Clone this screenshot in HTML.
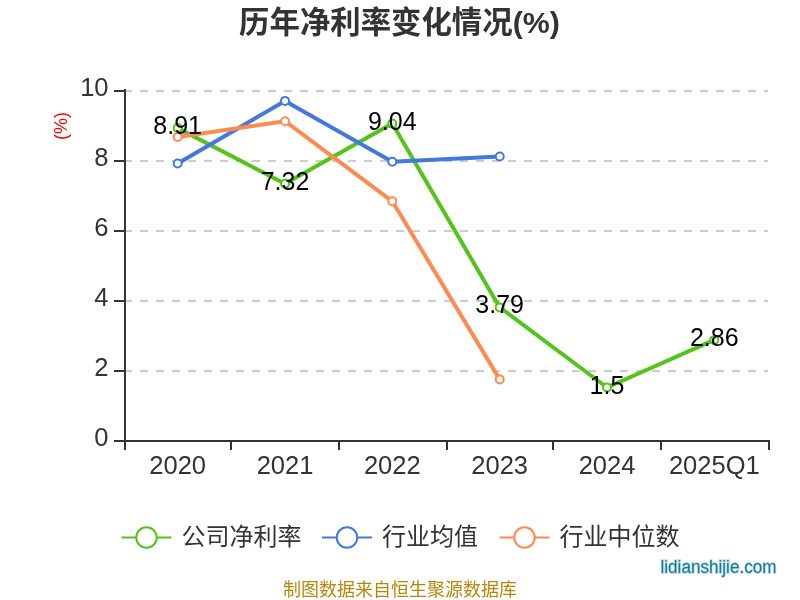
<!DOCTYPE html>
<html lang="zh-CN"><head><meta charset="utf-8"><title>历年净利率变化情况(%)</title>
<style>
html,body{margin:0;padding:0;background:#fff;}
body{width:800px;height:600px;overflow:hidden;position:relative;font-family:"Liberation Sans", "Noto Sans CJK SC", sans-serif;}
svg{position:absolute;left:0;top:0;display:block;}
svg text{font-family:"Liberation Sans", "Noto Sans CJK SC", sans-serif;}
.ax{font-size:25.5px;fill:#333;}
.dl{font-size:25px;fill:#000;text-anchor:middle;}
.lg{font-size:24px;fill:#333;}
</style></head><body>
<svg width="800" height="600" viewBox="0 0 800 600">
<rect x="0" y="0" width="800" height="600" fill="#ffffff"/>
<text x="399.5" y="33" text-anchor="middle" font-size="30.4" font-weight="bold" fill="#333">历年净利率变化情况(%)</text>
<line x1="124" y1="371.0" x2="768" y2="371.0" stroke="#ccc" stroke-width="2" stroke-dasharray="8 8"/>
<line x1="124" y1="301.0" x2="768" y2="301.0" stroke="#ccc" stroke-width="2" stroke-dasharray="8 8"/>
<line x1="124" y1="231.0" x2="768" y2="231.0" stroke="#ccc" stroke-width="2" stroke-dasharray="8 8"/>
<line x1="124" y1="161.0" x2="768" y2="161.0" stroke="#ccc" stroke-width="2" stroke-dasharray="8 8"/>
<line x1="124" y1="91.0" x2="768" y2="91.0" stroke="#ccc" stroke-width="2" stroke-dasharray="8 8"/>
<rect x="124" y="89" width="2" height="353" fill="#333"/>
<rect x="124" y="440" width="646" height="2" fill="#333"/>
<rect x="114" y="440" width="11" height="2" fill="#333"/>
<text class="ax" x="108.5" y="445.5" text-anchor="end">0</text>
<rect x="114" y="370" width="11" height="2" fill="#333"/>
<text class="ax" x="108.5" y="375.5" text-anchor="end">2</text>
<rect x="114" y="300" width="11" height="2" fill="#333"/>
<text class="ax" x="108.5" y="305.5" text-anchor="end">4</text>
<rect x="114" y="230" width="11" height="2" fill="#333"/>
<text class="ax" x="108.5" y="235.5" text-anchor="end">6</text>
<rect x="114" y="160" width="11" height="2" fill="#333"/>
<text class="ax" x="108.5" y="165.5" text-anchor="end">8</text>
<rect x="114" y="90" width="11" height="2" fill="#333"/>
<text class="ax" x="108.5" y="95.5" text-anchor="end">10</text>
<rect x="124" y="441" width="2" height="9" fill="#333"/>
<rect x="230" y="441" width="2" height="9" fill="#333"/>
<rect x="338" y="441" width="2" height="9" fill="#333"/>
<rect x="446" y="441" width="2" height="9" fill="#333"/>
<rect x="552" y="441" width="2" height="9" fill="#333"/>
<rect x="660" y="441" width="2" height="9" fill="#333"/>
<rect x="768" y="441" width="2" height="9" fill="#333"/>
<text class="ax" x="177.7" y="473.5" text-anchor="middle">2020</text>
<text class="ax" x="285.0" y="473.5" text-anchor="middle">2021</text>
<text class="ax" x="392.3" y="473.5" text-anchor="middle">2022</text>
<text class="ax" x="499.7" y="473.5" text-anchor="middle">2023</text>
<text class="ax" x="607.0" y="473.5" text-anchor="middle">2024</text>
<text class="ax" x="714.3" y="473.5" text-anchor="middle">2025Q1</text>
<text transform="translate(67 126) rotate(-90)" text-anchor="middle" font-size="18" fill="#ff0000">(%)</text>
<polyline points="177.7,128.1 285.0,183.8 392.3,123.6 499.7,307.4 607.0,387.5 714.3,339.9" fill="none" stroke="#52c41a" stroke-width="4" stroke-linejoin="bevel"/>
<circle cx="177.7" cy="128.1" r="4" fill="#fff" stroke="#52c41a" stroke-width="2"/>
<circle cx="285.0" cy="183.8" r="4" fill="#fff" stroke="#52c41a" stroke-width="2"/>
<circle cx="392.3" cy="123.6" r="4" fill="#fff" stroke="#52c41a" stroke-width="2"/>
<circle cx="499.7" cy="307.4" r="4" fill="#fff" stroke="#52c41a" stroke-width="2"/>
<circle cx="607.0" cy="387.5" r="4" fill="#fff" stroke="#52c41a" stroke-width="2"/>
<circle cx="714.3" cy="339.9" r="4" fill="#fff" stroke="#52c41a" stroke-width="2"/>
<polyline points="177.7,163.5 285.0,100.9 392.3,161.8 499.7,156.5" fill="none" stroke="#4378e0" stroke-width="4" stroke-linejoin="bevel"/>
<circle cx="177.7" cy="163.5" r="4" fill="#fff" stroke="#4378e0" stroke-width="2"/>
<circle cx="285.0" cy="100.9" r="4" fill="#fff" stroke="#4378e0" stroke-width="2"/>
<circle cx="392.3" cy="161.8" r="4" fill="#fff" stroke="#4378e0" stroke-width="2"/>
<circle cx="499.7" cy="156.5" r="4" fill="#fff" stroke="#4378e0" stroke-width="2"/>
<polyline points="177.7,136.9 285.0,121.2 392.3,201.3 499.7,379.4" fill="none" stroke="#ff8a50" stroke-width="4" stroke-linejoin="bevel"/>
<circle cx="177.7" cy="136.9" r="4" fill="#fff" stroke="#ff8a50" stroke-width="2"/>
<circle cx="285.0" cy="121.2" r="4" fill="#fff" stroke="#ff8a50" stroke-width="2"/>
<circle cx="392.3" cy="201.3" r="4" fill="#fff" stroke="#ff8a50" stroke-width="2"/>
<circle cx="499.7" cy="379.4" r="4" fill="#fff" stroke="#ff8a50" stroke-width="2"/>
<text class="dl" x="177.7" y="134.1">8.91</text>
<text class="dl" x="285.0" y="189.8">7.32</text>
<text class="dl" x="392.3" y="129.6">9.04</text>
<text class="dl" x="499.7" y="313.4">3.79</text>
<text class="dl" x="607.0" y="393.5">1.5</text>
<text class="dl" x="714.3" y="345.9">2.86</text>
<line x1="121.5" y1="537.5" x2="171.5" y2="537.5" stroke="#52c41a" stroke-width="2"/>
<circle cx="146.5" cy="537.5" r="10.25" fill="#fff" stroke="#52c41a" stroke-width="2"/>
<text class="lg" x="181.5" y="545">公司净利率</text>
<line x1="322.0" y1="537.5" x2="372.0" y2="537.5" stroke="#4378e0" stroke-width="2"/>
<circle cx="347.0" cy="537.5" r="10.25" fill="#fff" stroke="#4378e0" stroke-width="2"/>
<text class="lg" x="382.0" y="545">行业均值</text>
<line x1="499.5" y1="537.5" x2="549.5" y2="537.5" stroke="#ff8a50" stroke-width="2"/>
<circle cx="524.5" cy="537.5" r="10.25" fill="#fff" stroke="#ff8a50" stroke-width="2"/>
<text class="lg" x="559.5" y="545">行业中位数</text>
<text x="400" y="596" text-anchor="middle" font-size="18" fill="#b8860b">制图数据来自恒生聚源数据库</text>
<text x="660.5" y="572.5" font-size="18" textLength="116" lengthAdjust="spacingAndGlyphs" fill="#107c98" stroke="#c9dee7" stroke-width="2" stroke-linejoin="round" style="paint-order:stroke">lidianshijie.com</text>
</svg></body></html>
